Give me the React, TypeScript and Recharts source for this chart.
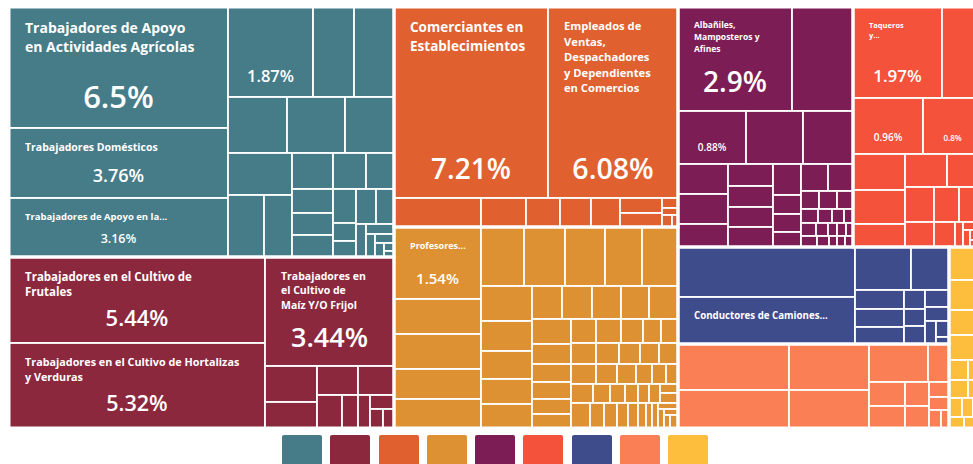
import React from 'react';
import { Treemap } from 'recharts';

type Nest = number | Nest[];

// colours of the nine occupation groups, in legend order
const groupColors = ['#467B88', '#8C283E', '#E0612F', '#DE9132', '#7C1E55', '#F4523A', '#3F4C8C', '#FB7F55', '#FDBE3E'];

// Shares (%) of each occupation, nested the way the picture groups its cells.
// A block that starts with 0 keeps its cells side by side in one strip.
const apoyo: Nest[] = [
  [6.5, [0, 3.76, 3.16]],
  [
    [1.87, [0, 0.9, 0.89]],
    [0, [0.81, 0.79, 0.66],
      [[0.66, 0.56, 0.43],
        [[0.37, 0.29, 0.25],
          [[0.24, 0.22, 0.22],
            [0, [0.19, 0.1, 0.09], [[0.17, 0.155], [0.08, 0.07, 0.05, 0.04, 0.03, 0.02, 0.02]]]]]]],
  ],
];

const cultivo: Nest[] = [
  [0, 5.44, 5.32],
  [3.44, [[0.46, 0.33], [0.29, [0.2, 0.13]], [0.26, [0.1, 0.08, 0.06, 0.05]]]],
];

const comercio: Nest[] = [
  0,
  [7.21, 6.08],
  [0.62, 0.32, 0.24, 0.22, 0.21, [0, 0.16, 0.14], [0.04, 0.03, 0.03, 0.02]],
];

const educacion: Nest[] = [
  [1.54, 0.75, 0.74, [0, 0.63, 0.63]],
  [[0.62, 0.59, 0.58, 0.53, 0.53],
    [[0.44, 0.38, 0.35, [0, 0.31, 0.31]],
      [0, [0.25, 0.25, 0.24, 0.23, 0.23],
        [[0.24, 0.19, 0.17, 0.16, [0, 0.14, 0.13]],
          [[0.15, 0.15, 0.13, 0.11, 0.1],
            [0,
              [0.13, 0.12, 0.11, 0.1, 0.09],
              [0.12, 0.1, 0.09, 0.08, 0.07, 0.06],
              [0.1, 0.08, 0.07, 0.06, 0.05, 0.05, 0.04, 0.04],
              [0.12, 0.09, 0.08, 0.07, 0.06, 0.05, 0.04, 0.04, 0.03, 0.03, 0.02, 0.02, 0.02]]]]]]],
];

const construccion: Nest[] = [
  [2.9, 1.56],
  [0, [0.88, 0.74, 0.65],
    [[0.37, 0.37, 0.28], [0.24, 0.23, [0, 0.22, 0.22]],
      [0, [0.21, 0.13, 0.12, 0.1],
        [[0.18, 0.17],
          [[0.08, 0.08, 0.07],
            [0, [0.06, 0.05, 0.04, 0.03], [0.05, 0.04, 0.03, 0.03, 0.02], [0.04, 0.03, 0.02, 0.02, 0.02]]]]]]],
];

const alimentos: Nest[] = [
  [1.97, 0.89],
  [0.96, 0.8],
  [[0.46, 0.43, 0.3], [[0.34, 0.28], [0, [0.25, 0.22, 0.2], [0.18, 0.13, [0.05, 0.04, 0.03, 0.03, 0.02]]]]],
];

const transporte: Nest[] = [
  [0, 2.15, 2.06],
  [[0.59, 0.4], [[0.23, [0, 0.21, 0.21]], [0, [0.1, 0.09, 0.09], [0.1, 0.08, 0.06, 0.05, 0.03]]]],
];

const servicios: Nest[] = [
  [0, 1.25, 1.03],
  [0.9, 0.74],
  [[0.55, 0.19], [[0.21, 0.2], [0, [0.14, 0.13], [0.07, 0.06, 0.05, 0.04]]]],
];

const otros: Nest[] = [0.26, 0.24, 0.2, 0.2, [[0.09, 0.07], [0.08, 0.06], [0, [0.06, 0.05, 0.04], [0.04, 0.03, 0.02]]]];

const groups = [apoyo, cultivo, comercio, educacion, construccion, alimentos, transporte, servicios, otros];

// texts written in the cells
const cellLabels = [
  { group: 0, share: 6.5, lines: ['Trabajadores de Apoyo', 'en Actividades Agrícolas'] },
  { group: 0, share: 3.76, lines: ['Trabajadores Domésticos'] },
  { group: 0, share: 3.16, lines: ['Trabajadores de Apoyo en la...'] },
  { group: 0, share: 1.87, lines: [] },
  { group: 1, share: 5.44, lines: ['Trabajadores en el Cultivo de', 'Frutales'] },
  { group: 1, share: 5.32, lines: ['Trabajadores en el Cultivo de Hortalizas', 'y Verduras'] },
  { group: 1, share: 3.44, lines: ['Trabajadores en', 'el Cultivo de', 'Maíz Y/O Frijol'] },
  { group: 2, share: 7.21, lines: ['Comerciantes en', 'Establecimientos'] },
  { group: 2, share: 6.08, lines: ['Empleados de', 'Ventas,', 'Despachadores', 'y Dependientes', 'en Comercios'] },
  { group: 3, share: 1.54, lines: ['Profesores...'] },
  { group: 4, share: 2.9, lines: ['Albañiles,', 'Mamposteros y', 'Afines'] },
  { group: 4, share: 0.88, lines: [] },
  { group: 5, share: 1.97, lines: ['Taqueros', 'y...'] },
  { group: 5, share: 0.96, lines: [] },
  { group: 5, share: 0.8, lines: [] },
  { group: 6, share: 2.06, lines: ['Conductores de Camiones...'] },
];

// [name size, share size] for each label above; 0 hides that text
const labelFonts = [
  [14, 31], [10.5, 18], [9.5, 12.5], [0, 16.5], [11.5, 22], [10.8, 21.5], [10.5, 27], [13.5, 28],
  [11.2, 28.5], [9, 15], [8.5, 28], [0, 10], [7.5, 17], [0, 10], [0, 8], [9.7, 0],
];

type TNode = { name: string; value?: number; g?: number; group?: boolean; children?: TNode[] };

let uid = 0;
const toNode = (item: Nest, g: number): TNode =>
  Array.isArray(item)
    ? { name: `n${uid++}`, g, children: item.map((c) => toNode(c, g)) }
    : { name: `n${uid++}`, g, value: item };
const groupNode = (g: number): TNode => ({ ...toNode(groups[g], g), group: true });
const block = (...children: TNode[]): TNode => ({ name: `b${uid++}`, children });
const spacer = (): TNode => ({ name: `s${uid++}`, value: 0 });

const treeData = [
  block(groupNode(0), groupNode(1)),
  block(groupNode(2), groupNode(3)),
  block(block(groupNode(4), groupNode(5)), block(block(spacer(), groupNode(6), groupNode(7)), groupNode(8))),
];

const FONT = '"Open Sans", "Noto Sans", sans-serif';

const renderCell = (p: any, outline: boolean) => {
  const { x, y, width, height, g, group, children, value } = p;
  if (outline) {
    return group ? <rect x={x} y={y} width={width} height={height} fill="none" stroke="#fff" strokeWidth={3} /> : <g />;
  }
  if ((children && children.length) || !(width > 0) || !(height > 0) || g === undefined) return <g />;
  const li = cellLabels.findIndex((l) => l.group === g && l.share === value);
  const [nameSize, shareSize] = li >= 0 ? labelFonts[li] : [0, 0];
  return (
    <g>
      <rect x={x} y={y} width={width} height={height} fill={groupColors[g]} stroke="#fff" strokeOpacity={0.9} strokeWidth={2} />
      {li >= 0 && nameSize > 0 &&
        cellLabels[li].lines.map((line, i) => (
          <text key={i} x={x + 16} y={y + 15 + nameSize * 0.75 + i * nameSize * 1.38} fill="#fff" fontFamily={FONT} fontWeight={700} fontSize={nameSize}>
            {line}
          </text>
        ))}
      {li >= 0 && shareSize > 0 && (
        <text x={x + width / 2} y={y + height - (10 + shareSize * 0.33)} textAnchor="middle" fill="#fff" fontFamily={FONT} fontWeight={600} fontSize={shareSize}>
          {`${value}%`}
        </text>
      )}
    </g>
  );
};

const W = 973;
const H = 421;

export default function App() {
  return (
    <div style={{ position: 'fixed', left: 0, top: 0, width: 973, height: 464, overflow: 'hidden', background: '#fff' }}>
      <div style={{ position: 'absolute', left: 9, top: 7 }}>
        <Treemap width={W} height={H} data={treeData} dataKey="value" aspectRatio={0.0001} isAnimationActive={false} content={(p: any) => renderCell(p, false)} />
      </div>
      <div style={{ position: 'absolute', left: 9, top: 7, pointerEvents: 'none' }}>
        <Treemap width={W} height={H} data={treeData} dataKey="value" aspectRatio={0.0001} isAnimationActive={false} content={(p: any) => renderCell(p, true)} />
      </div>
      <div style={{ position: 'absolute', left: 282, top: 435, display: 'flex', gap: 8.3 }}>
        {groupColors.map((c) => (
          <div key={c} style={{ width: 40, height: 40, background: c, borderRadius: 2 }} />
        ))}
      </div>
    </div>
  );
}
